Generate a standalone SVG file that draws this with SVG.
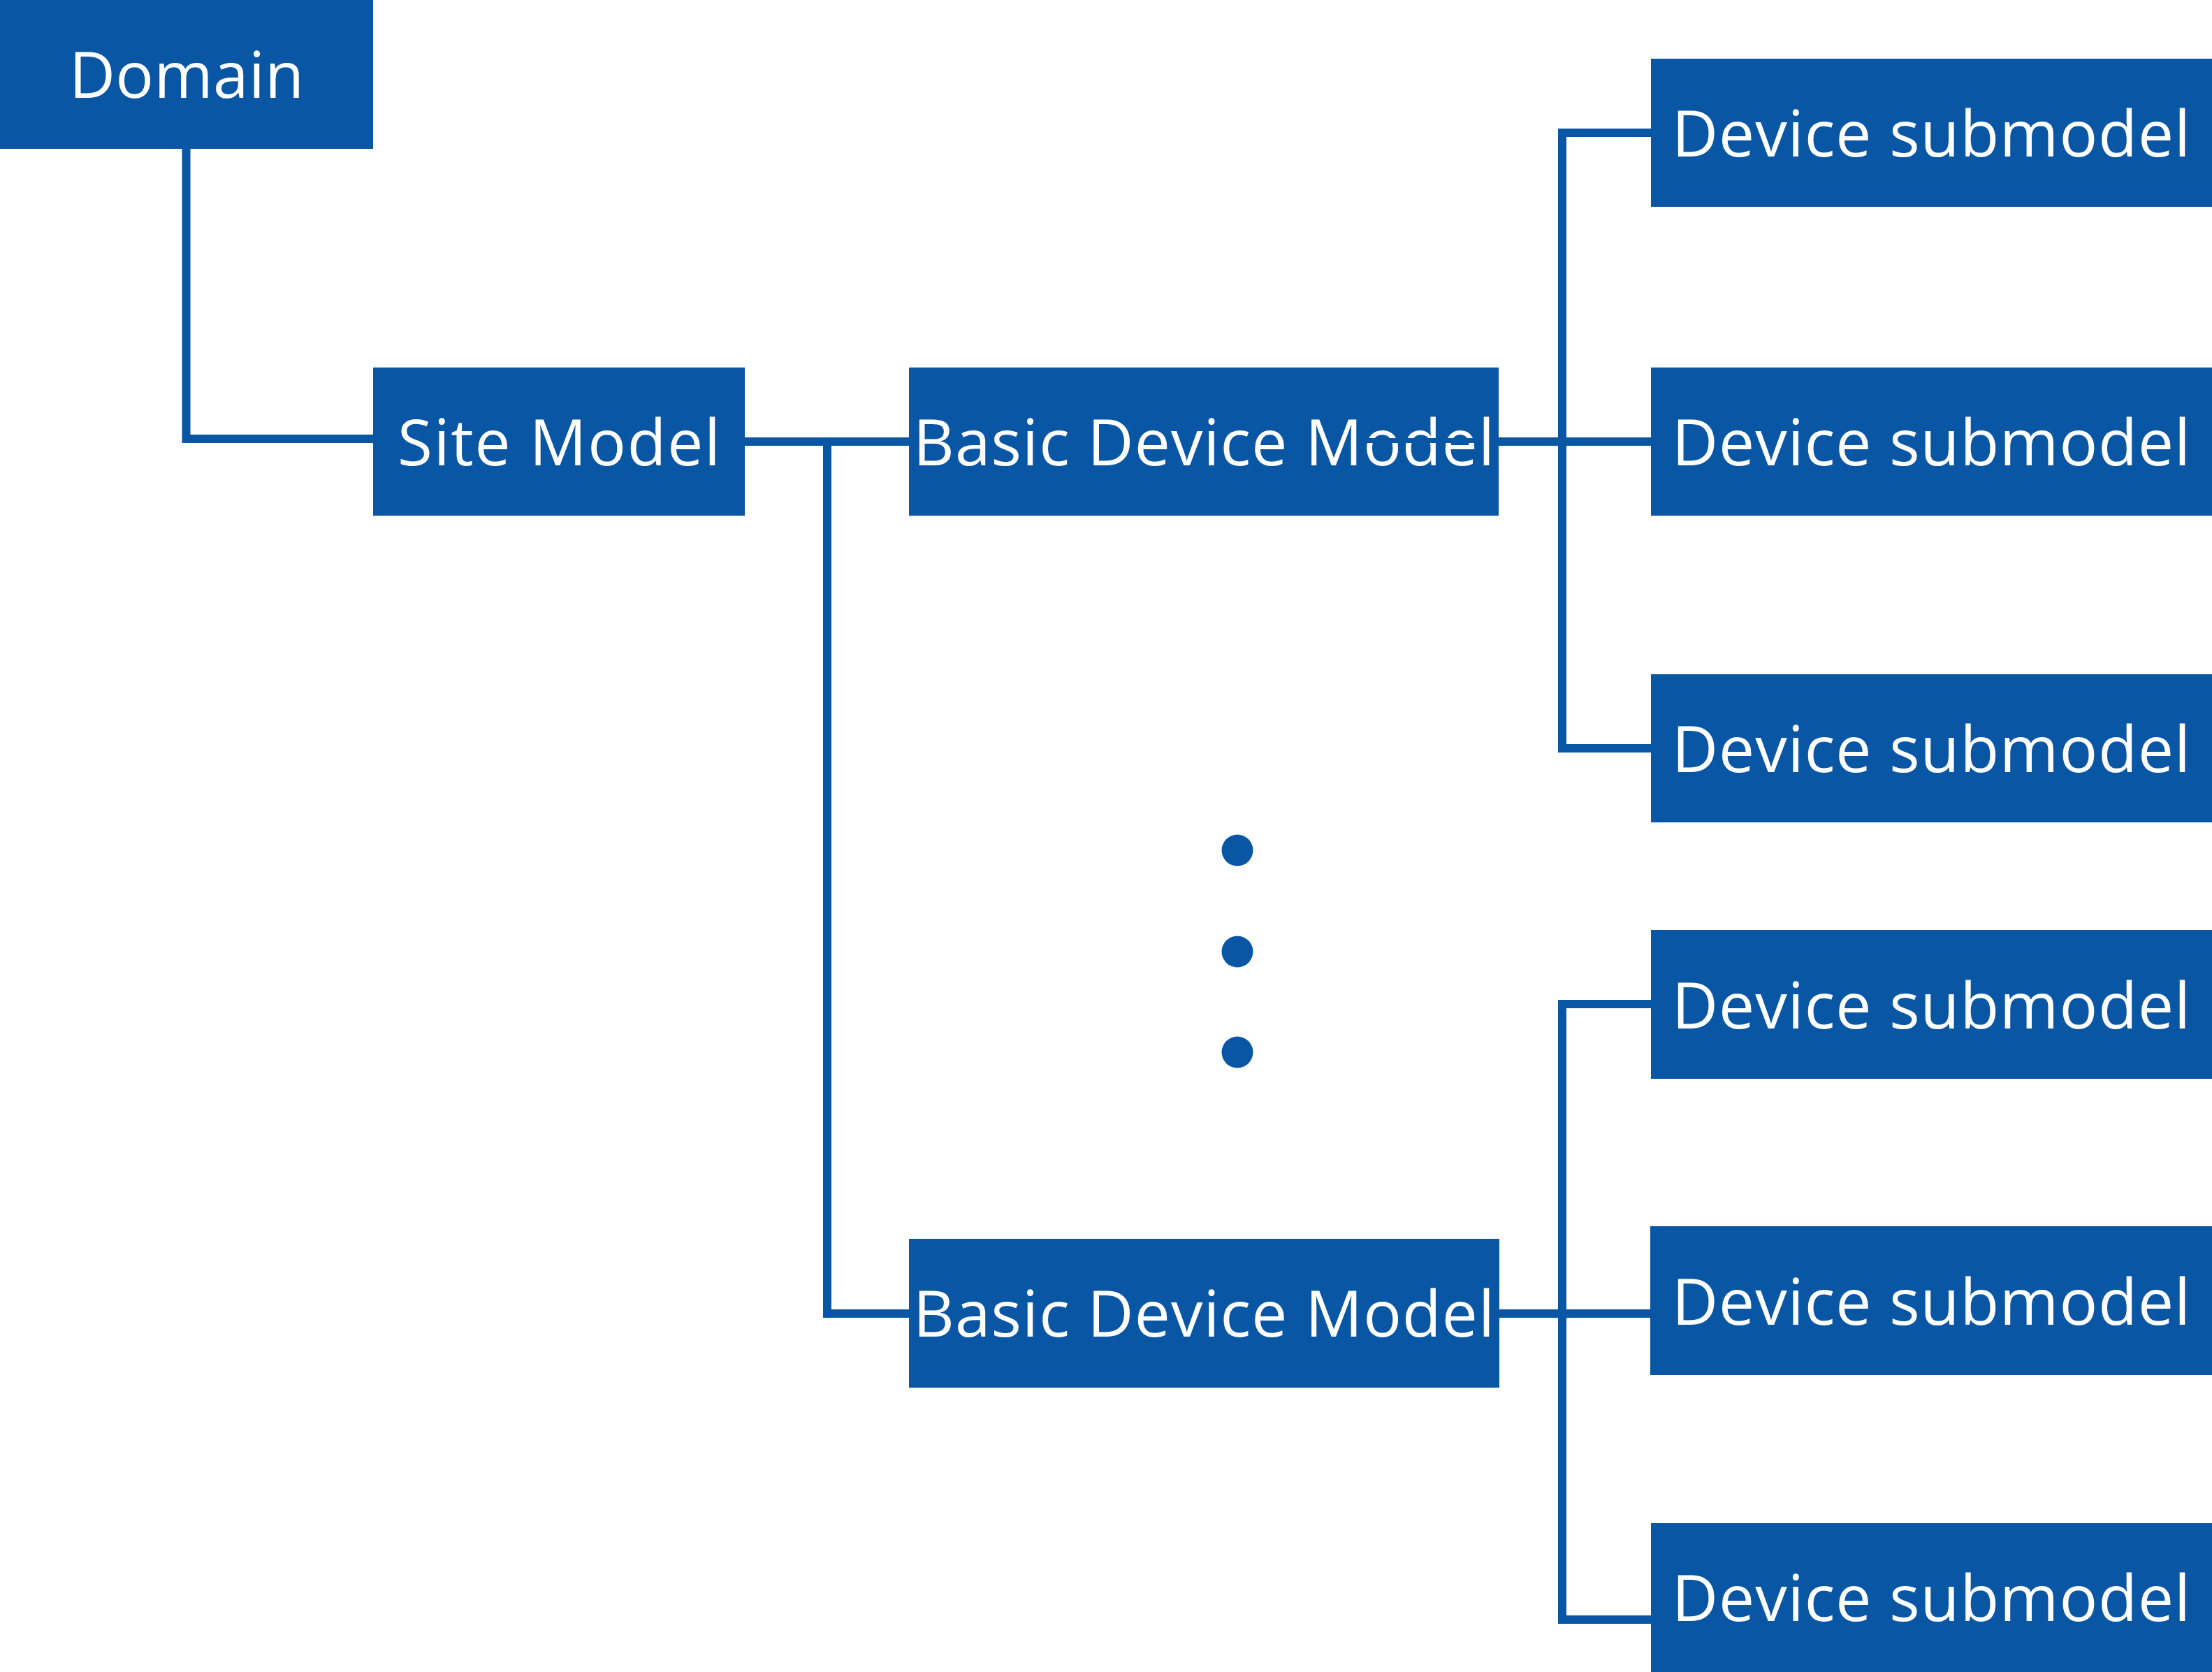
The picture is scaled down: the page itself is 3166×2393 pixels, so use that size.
<svg xmlns="http://www.w3.org/2000/svg" width="3166" height="2393" viewBox="0 0 3166 2393">
  <style>
    .box { fill: #0956A5; }
    .lbl { fill: #FFFFFF; font-family: "Open Sans", "Noto Sans", "DejaVu Sans", sans-serif; font-size: 91px; text-anchor: middle; }
    .conn { fill: none; stroke: #0956A5; stroke-width: 12; stroke-linejoin: miter; stroke-linecap: butt; }
    .dot { fill: #0956A5; }
  </style>
  <rect x="0" y="0" width="3166" height="2393" fill="#FFFFFF"/>
  <g id="connectors">
    <path class="conn" d="M266.5 213 V628 H534"/>
    <path class="conn" d="M1066 632 H1301"/>
    <path class="conn" d="M1184 632 V1880 H1301"/>
    <path class="conn" d="M2145 632 H2363"/>
    <path class="conn" d="M2363 190 H2236 V1071 H2363"/>
    <path class="conn" d="M2363 1437 H2236 V2318 H2363"/>
    <path class="conn" d="M2146 1880 H2363"/>
  </g>
  <g id="domain">
    <rect class="box" x="0" y="0" width="534" height="213"/>
    <text class="lbl" x="267" y="140" textLength="336" lengthAdjust="spacing">Domain</text>
  </g>
  <g id="site-model">
    <rect class="box" x="534" y="526" width="532" height="212"/>
    <text class="lbl" x="800" y="666" textLength="462" lengthAdjust="spacing">Site Model</text>
  </g>
  <g id="basic-device-model-1">
    <rect class="box" x="1301" y="526" width="844" height="212"/>
    <text class="lbl" x="1723" y="666" textLength="832" lengthAdjust="spacing">Basic Device Model</text>
    <rect class="box" x="1957" y="627" width="160" height="7"/>
  </g>
  <g id="basic-device-model-2">
    <rect class="box" x="1301" y="1773" width="845" height="213"/>
    <text class="lbl" x="1723" y="1913" textLength="832" lengthAdjust="spacing">Basic Device Model</text>
  </g>
  <g id="device-submodel-1">
    <rect class="box" x="2363" y="84" width="803" height="212"/>
    <text class="lbl" x="2764" y="224" textLength="742" lengthAdjust="spacing">Device submodel</text>
  </g>
  <g id="device-submodel-2">
    <rect class="box" x="2363" y="526" width="803" height="212"/>
    <text class="lbl" x="2764" y="666" textLength="742" lengthAdjust="spacing">Device submodel</text>
  </g>
  <g id="device-submodel-3">
    <rect class="box" x="2363" y="965" width="803" height="212"/>
    <text class="lbl" x="2764" y="1105" textLength="742" lengthAdjust="spacing">Device submodel</text>
  </g>
  <g id="device-submodel-4">
    <rect class="box" x="2363" y="1331" width="803" height="213"/>
    <text class="lbl" x="2764" y="1472" textLength="742" lengthAdjust="spacing">Device submodel</text>
  </g>
  <g id="device-submodel-5">
    <rect class="box" x="2362" y="1755" width="804" height="213"/>
    <text class="lbl" x="2764" y="1896" textLength="742" lengthAdjust="spacing">Device submodel</text>
  </g>
  <g id="device-submodel-6">
    <rect class="box" x="2363" y="2180" width="803" height="213"/>
    <text class="lbl" x="2764" y="2320" textLength="742" lengthAdjust="spacing">Device submodel</text>
  </g>
  <g id="ellipsis">
    <circle class="dot" cx="1771" cy="1217" r="22.5"/>
    <circle class="dot" cx="1771" cy="1362" r="22.5"/>
    <circle class="dot" cx="1771" cy="1506" r="22.5"/>
  </g>
</svg>
